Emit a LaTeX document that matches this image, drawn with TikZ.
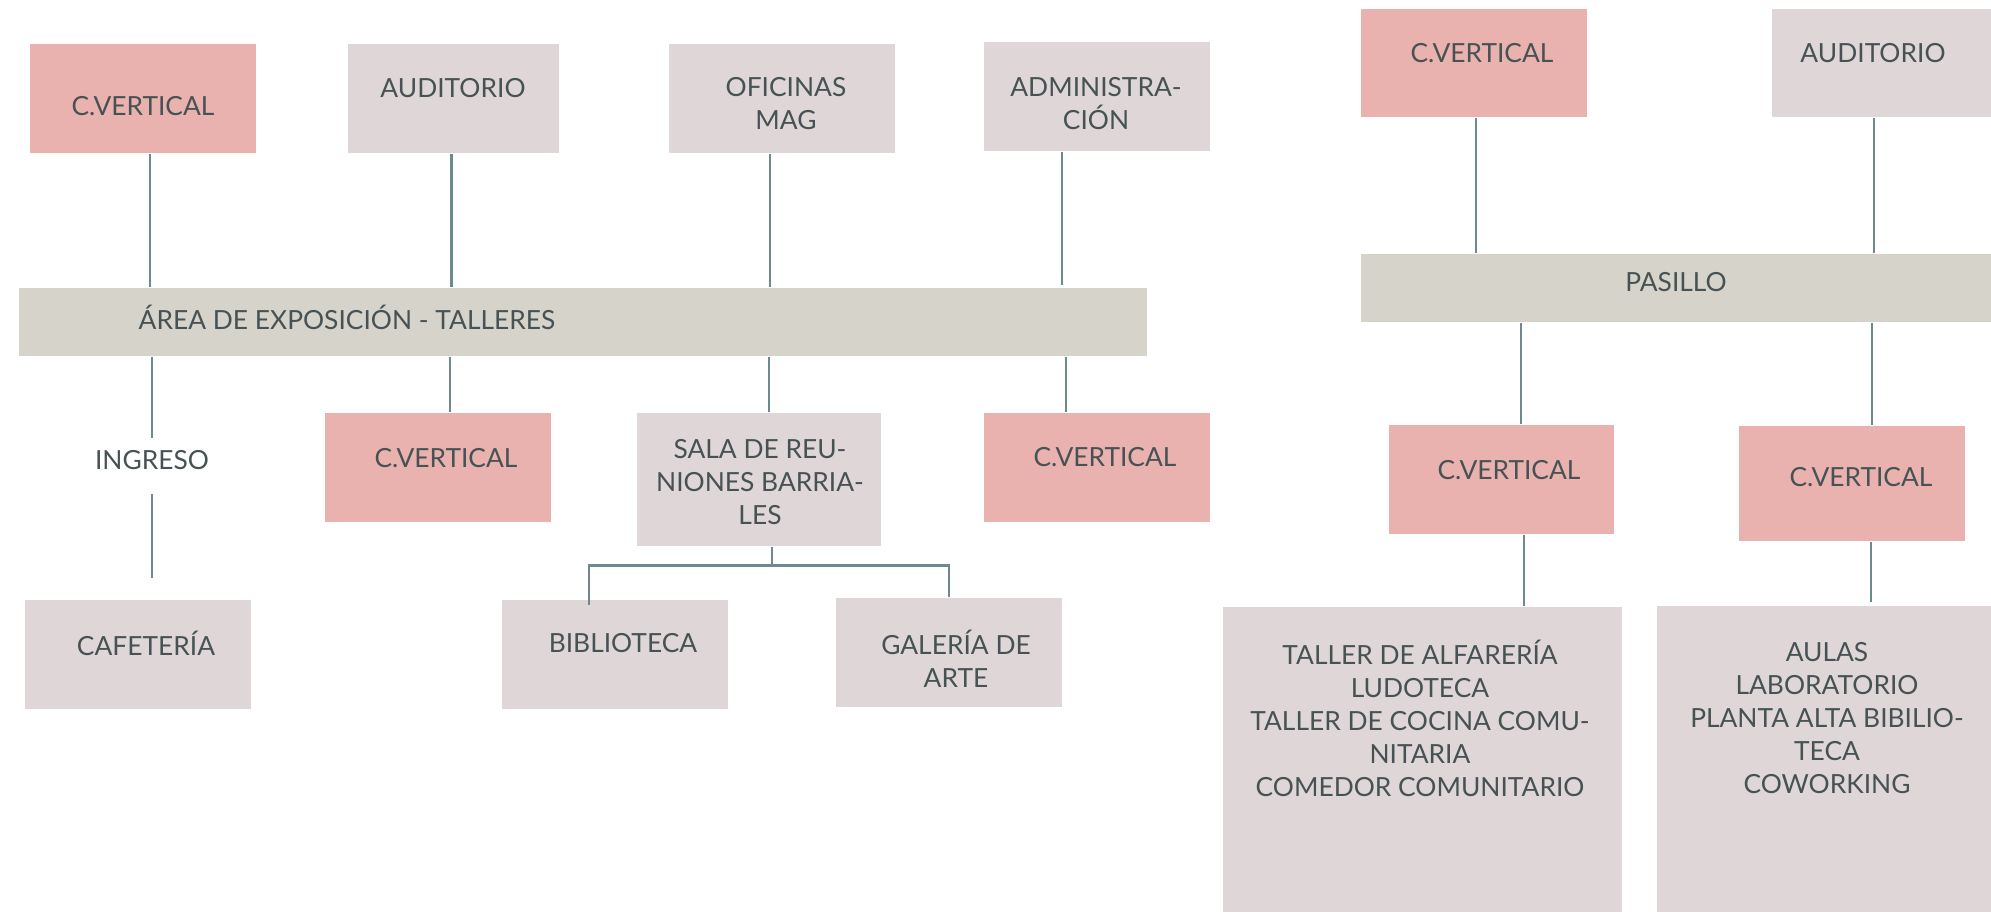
\documentclass[tikz,border=0pt]{standalone}
\usepackage{fontspec}
\setmainfont{Lato}
\usepackage{xcolor}
\usetikzlibrary{positioning}

\definecolor{pinkc}{HTML}{EAB2AF}
\definecolor{mauvec}{HTML}{DFD6D7}
\definecolor{barc}{HTML}{D6D3CB}
\definecolor{linec}{HTML}{6F8A8C}
\definecolor{txtc}{HTML}{465254}
\newcommand{\lblfont}{\fontsize{7.5}{9.4}\selectfont}

\begin{document}
\begin{tikzpicture}[
  pinkbox/.style={fill=pinkc, inner sep=0pt, minimum width=2.26cm, minimum height=1.09cm},
  greybox/.style={fill=mauvec, inner sep=0pt, minimum width=2.26cm, minimum height=1.09cm},
  barbox/.style={fill=barc, inner sep=0pt, minimum height=0.68cm},
  lbl/.style={font=\lblfont, text=txtc, align=center, inner sep=0pt},
  conn/.style={draw=linec, line width=0.8pt}]
  \useasboundingbox (0,0) rectangle (19.91,-9.12);
  \clip (0,0) rectangle (19.91,-9.12);

  % Upper row, left side
  \node[pinkbox] (cv1) at (1.43,-0.985) {};
  \node[greybox, minimum width=2.11cm] (aud1) at (4.535,-0.985) {};
  \node[greybox] (ofi) at (7.82,-0.985) {};
  \node[greybox] (adm) at (10.97,-0.965) {};
  \node[lbl] (cv1txt) at (1.43,-1.06) {C.VERTICAL};
  \node[lbl] (aud1txt) at (4.53,-0.88) {AUDITORIO};
  \node[lbl] (ofitxt) at (7.86,-1.04) {OFICINAS\\MAG};
  \node[lbl] (admtxt) at (10.96,-1.04) {ADMINISTRA-\\CIÓN};

  % Exhibition bar
  \node[barbox, minimum width=11.28cm] (expo) at (5.83,-3.22) {};
  \node[lbl, anchor=west] (expotxt) at (1.38,-3.17) {ÁREA DE EXPOSICIÓN - TALLERES};

  % Lower row, left side
  \node[lbl, minimum height=0.54cm, text depth=0.12cm] (ingreso) at (1.52,-4.66) {INGRESO};
  \node[pinkbox] (cv2) at (4.38,-4.675) {};
  \node[greybox, minimum width=2.44cm, minimum height=1.33cm] (sala) at (7.59,-4.795) {};
  \node[pinkbox] (cv3) at (10.97,-4.675) {};
  \node[lbl] (cv2txt) at (4.46,-4.58) {C.VERTICAL};
  \node[lbl] (salatxt) at (7.60,-4.82) {SALA DE REU-\\NIONES BARRIA-\\LES};
  \node[lbl] (cv3txt) at (11.05,-4.57) {C.VERTICAL};

  \node[greybox] (cafe) at (1.38,-6.545) {};
  \node[greybox] (bib) at (6.15,-6.545) {};
  \node[greybox] (gal) at (9.49,-6.525) {};
  \node[lbl] (cafetxt) at (1.46,-6.43) {CAFETERÍA};
  \node[lbl] (bibtxt) at (6.23,-6.43) {BIBLIOTECA};
  \node[lbl] (galtxt) at (9.56,-6.59) {GALERÍA DE\\ARTE};

  % Connectors, left side
  \draw[conn] ([xshift=0.7mm]cv1.south) -- ([xshift=0.7mm]cv1.south |- expo.north);
  \draw[conn] ([xshift=-0.2mm]aud1.south) -- ([xshift=-0.2mm]aud1.south |- expo.north);
  \draw[conn] ([xshift=-1.2mm]ofi.south) -- ([xshift=-1.2mm]ofi.south |- expo.north);
  \draw[conn] ([xshift=-3.5mm]adm.south) -- ([xshift=-3.5mm,yshift=0.2mm]adm.south |- expo.north);
  \draw[conn] (ingreso.north |- expo.south) -- (ingreso.north);
  \draw[conn, shorten >=0.21cm] (ingreso.south) -- (ingreso.south |- cafe.north);
  \draw[conn] ([xshift=1.2mm]cv2.north |- expo.south) -- ([xshift=1.2mm]cv2.north);
  \draw[conn] ([xshift=1mm]sala.north |- expo.south) -- ([xshift=1mm]sala.north);
  \draw[conn] ([xshift=-3.1mm]cv3.north |- expo.south) -- ([xshift=-3.1mm]cv3.north);
  \coordinate (split) at ([xshift=1.3mm,yshift=-1.9mm]sala.south);
  \draw[conn] ([xshift=1.3mm]sala.south) -- (split);
  \draw[conn] ([xshift=-2.6mm,yshift=-0.6mm]bib.north) |- (split) -| (gal.north);

  % Right side
  \node[pinkbox, minimum height=1.08cm] (cvR1) at (14.74,-0.63) {};
  \node[greybox, minimum width=2.78cm, minimum height=1.08cm] (audR) at (19.11,-0.63) {};
  \node[lbl] (cvR1txt) at (14.82,-0.53) {C.VERTICAL};
  \node[lbl] (audRtxt) at (18.73,-0.53) {AUDITORIO};

  \node[barbox, minimum width=6.89cm] (pasillo) at (17.055,-2.88) {};
  \node[lbl] (pasillotxt) at (16.76,-2.82) {PASILLO};

  \node[pinkbox, minimum width=2.25cm] (cvR2) at (15.015,-4.795) {};
  \node[pinkbox, minimum height=1.15cm] (cvR3) at (18.52,-4.835) {};
  \node[lbl] (cvR2txt) at (15.09,-4.70) {C.VERTICAL};
  \node[lbl] (cvR3txt) at (18.61,-4.77) {C.VERTICAL};

  \node[greybox, minimum width=3.99cm, minimum height=3.43cm] (bigL) at (14.225,-7.785) {};
  \node[greybox, minimum width=3.93cm, minimum height=3.44cm] (bigR) at (18.535,-7.78) {};
  \node[lbl] (bigLtxt) at (14.20,-7.18) {TALLER DE ALFARERÍA\\LUDOTECA\\TALLER DE COCINA COMU-\\NITARIA\\COMEDOR COMUNITARIO};
  \node[lbl] (bigRtxt) at (18.27,-7.18) {AULAS\\LABORATORIO\\PLANTA ALTA BIBILIO-\\TECA\\COWORKING};

  % Connectors, right side
  \draw[conn] ([xshift=0.2mm]cvR1.south) -- ([xshift=0.2mm]cvR1.south |- pasillo.north);
  \draw[conn] ([xshift=-3.7mm]audR.south) -- ([xshift=-3.7mm]audR.south |- pasillo.north);
  \draw[conn] ([xshift=1.95mm]cvR2.north |- pasillo.south) -- ([xshift=1.95mm]cvR2.north);
  \draw[conn] ([xshift=2mm]cvR3.north |- pasillo.south) -- ([xshift=2mm]cvR3.north);
  \draw[conn] ([xshift=2.25mm]cvR2.south) -- ([xshift=2.25mm]cvR2.south |- bigL.north);
  \draw[conn] ([xshift=1.9mm]cvR3.south) -- ([xshift=1.9mm,yshift=0.3mm]cvR3.south |- bigR.north);
\end{tikzpicture}
\end{document}
